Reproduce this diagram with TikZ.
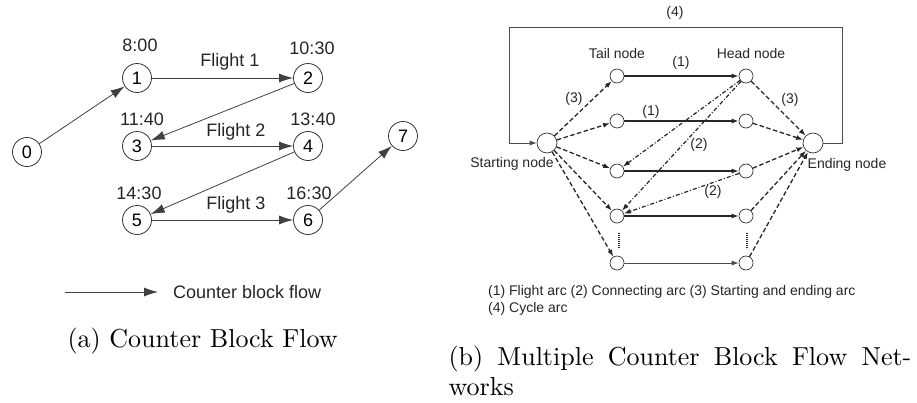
\documentclass[tikz,border=0pt]{standalone}
\usepackage{fontspec}
\newfontfamily\hv{Liberation Sans}
\usetikzlibrary{arrows.meta}
\begin{document}
\begin{tikzpicture}[x=1pt,y=-1pt,
  bignode/.style={circle,draw=black!80,line width=0.8pt,minimum size=29pt,inner sep=0pt,font=\hv\fontsize{18}{20}\selectfont},
  lbl/.style={font=\hv\fontsize{18}{20}\selectfont,text=black!85,inner sep=0pt},
  flow/.style={draw=black!75,line width=0.8pt,-{Latex[length=14pt,width=9pt]}},
  smnode/.style={circle,draw=black!80,line width=0.7pt,minimum size=14pt,inner sep=0pt},
  endnode/.style={circle,draw=black!80,line width=0.7pt,minimum size=20pt,inner sep=0pt},
  rlbl/.style={font=\hv\fontsize{14}{16}\selectfont,text=black!85,inner sep=0pt},
  tipR/.style={-{Latex[length=7pt,width=5pt]}},
  arcA/.style={draw=black!85,line width=1.2pt,tipR},
  arcC/.style={draw=black!85,line width=1.2pt,dash pattern=on 4pt off 2pt on 1pt off 2pt,tipR},
  arcS/.style={draw=black!85,line width=1.3pt,dash pattern=on 4.5pt off 2.5pt,tipR},
  arcY/.style={draw=black!70,line width=0.7pt,tipR},
  vdots/.style={draw=black!85,line width=1.8pt,dash pattern=on 1.2pt off 0.8pt},
  capt/.style={font=\fontsize{10}{12}\selectfont,inner sep=0pt,scale=2.6}
]
\useasboundingbox (0,0) rectangle (917,402);
% ---------- (a) ----------
\node[bignode] (n0) at (27,152) {0};
\node[bignode] (n1) at (137,78) {1};
\node[bignode] (n2) at (308,78) {2};
\node[bignode] (n3) at (137,146) {3};
\node[bignode] (n4) at (308,146) {4};
\node[bignode] (n5) at (137,220) {5};
\node[bignode] (n6) at (308,220) {6};
\node[bignode] (n7) at (403,136) {7};
\node[lbl] (t1) at (140,45) {8:00};
\node[lbl] (t2) at (312,48) {10:30};
\node[lbl] (t3) at (142,119) {11:40};
\node[lbl] (t4) at (313,119) {13:40};
\node[lbl] (t5) at (139,193) {14:30};
\node[lbl] (t6) at (309,193) {16:30};
\node[lbl] (f1) at (230,62) {Flight 1};
\node[lbl] (f2) at (236,132) {Flight 2};
\node[lbl] (f3) at (236,205) {Flight 3};
\draw[flow] (n0) -- (n1);
\draw[flow] (n1) -- (n2);
\draw[flow] (n2) -- (n3);
\draw[flow] (n3) -- (n4);
\draw[flow] (n4) -- (n5);
\draw[flow] (n5) -- (n6);
\draw[flow] (n6) -- (n7);
\coordinate (la) at (65,292);
\coordinate (lb) at (158,292);
\draw[flow] (la) -- (lb);
\node[lbl,anchor=west] (lt) at (173,292) {Counter block flow};
\node[capt,anchor=base west] (ca) at (67,347) {(a) Counter Block Flow};
% ---------- (b) ----------
\node[endnode] (st) at (547,143) {};
\node[endnode] (en) at (813,143) {};
\node[smnode] (a1) at (617,76) {};
\node[smnode] (a2) at (617,121) {};
\node[smnode] (a3) at (617,171) {};
\node[smnode] (a4) at (617,216) {};
\node[smnode] (a5) at (617,263) {};
\node[smnode] (b1) at (746,76) {};
\node[smnode] (b2) at (746,121) {};
\node[smnode] (b3) at (746,171) {};
\node[smnode] (b4) at (746,216) {};
\node[smnode] (b5) at (746,263) {};
\foreach \i in {1,...,4} {
  \draw[arcA] (a\i) -- (b\i);
}
\draw[arcA,line width=0.8pt,draw=black!70] (a5) -- (b5);
\foreach \i in {1,...,5} {
  \draw[arcS] (st) -- (a\i);
  \draw[arcS] (b\i) -- (en);
}
\draw[arcC] (b1) -- (a3);
\draw[arcC] (b1) -- (a4);
\draw[arcC] (b3) -- (a4);
\coordinate (dl1) at (619,233);
\coordinate (dl2) at (619,249);
\coordinate (dr1) at (747,233);
\coordinate (dr2) at (747,249);
\draw[vdots] (dl1) -- (dl2);
\draw[vdots] (dr1) -- (dr2);
\coordinate (cr) at (842,27);
\coordinate (cl) at (509,27);
\draw[arcY] (en.east) -| (cr) -- (cl) |- (st.west);
\node[rlbl] (l4) at (675,13) {(4)};
\node[rlbl] (ltn) at (617,53) {Tail node};
\node[rlbl] (lhn) at (751,53) {Head node};
\node[rlbl] (l1a) at (681,63) {(1)};
\node[rlbl] (l1b) at (651,112) {(1)};
\node[rlbl] (l3a) at (574,99) {(3)};
\node[rlbl] (l3b) at (790,100) {(3)};
\node[rlbl] (l2a) at (699,145) {(2)};
\node[rlbl] (l2b) at (713,192) {(2)};
\node[rlbl] (lsn) at (512,164) {Starting node};
\node[rlbl] (len) at (847,165) {Ending node};
\node[rlbl,anchor=base west] (lg1) at (488,295) {(1) Flight arc (2) Connecting arc (3) Starting and ending arc};
\node[rlbl,anchor=base west] (lg2) at (488,312) {(4) Cycle arc};
\node[capt,anchor=base west] (cb1) at (448,365) {\makebox[178pt][s]{(b) Multiple Counter Block Flow Net-}};
\node[capt,anchor=base west] (cb2) at (448,395) {works};
\end{tikzpicture}
\end{document}
